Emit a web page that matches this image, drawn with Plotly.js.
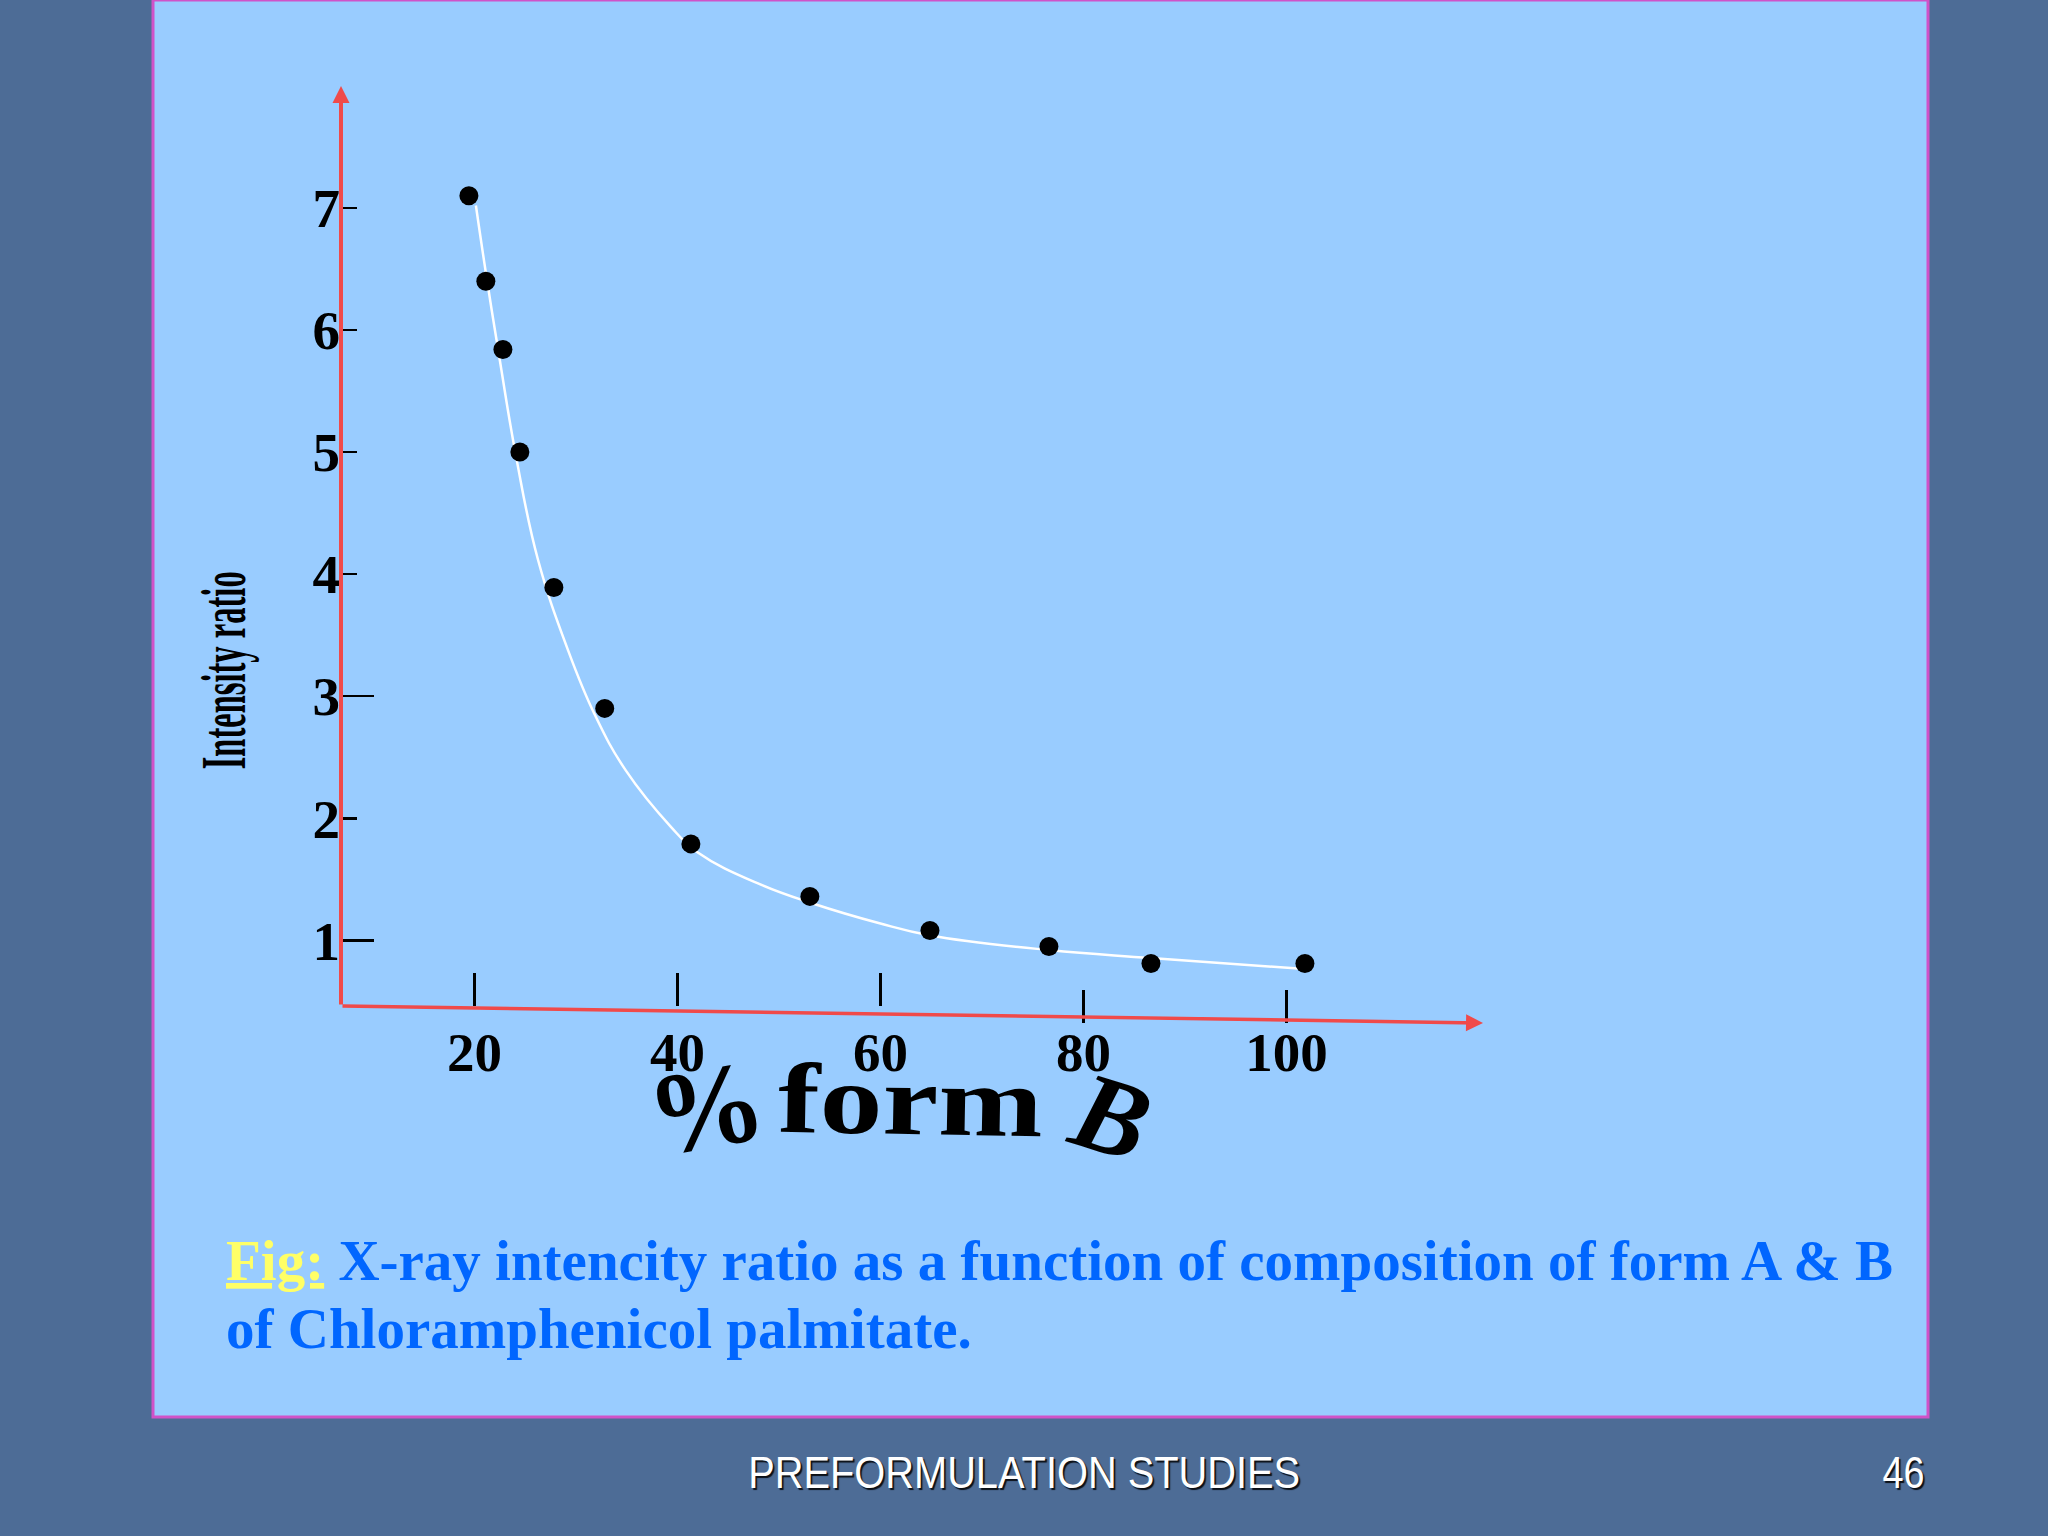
<!DOCTYPE html>
<html>
<head>
<meta charset="utf-8">
<script src="https://cdn.plot.ly/plotly-3.0.1.min.js"></script>
<style>
html,body{margin:0;padding:0;background:#4D6C96;}
#chart{width:2048px;height:1536px;}
</style>
</head>
<body>
<div id="chart"></div>
<script>
// ---- data ----
const formB = [19.45, 21.12, 22.8, 24.47, 27.82, 32.83, 41.32, 53.04, 64.87, 76.59, 86.64, 101.81];
const intensityRatio = [7.10, 6.40, 5.84, 5.00, 3.89, 2.90, 1.79, 1.36, 1.08, 0.95, 0.81, 0.81];
const curveX = [20.14, 21.12, 22.5, 24.17, 26.25, 29.2, 31.84, 34.92, 39.35, 42.0, 48.1, 53.4, 59.9, 64.9, 76.6, 86.6, 102.5];
const curveY = [7.02, 6.47, 5.75, 4.93, 4.12, 3.38, 2.85, 2.39, 1.93, 1.72, 1.46, 1.30, 1.14, 1.04, 0.92, 0.855, 0.76];
const xTickVals = [20, 40, 60, 80, 100];
const xTickText = ['20', '40', '60', '80', '100'];
const yTickVals = [1, 2, 3, 4, 5, 6, 7];
const yTickText = ['1', '2', '3', '4', '5', '6', '7'];
const xLongTicksLow = [80, 100];
const xTicksHigh = [20, 40, 60];
const yLongTicks = [1, 3];
const yTitle = 'Intensity ratio';
const xTitleParts = ['%', 'form', 'B'];
const captionLabel = 'Fig:';
const captionLine1 = 'X-ray intencity ratio as a function of composition of form A & B';
const captionLine2 = 'of Chloramphenicol palmitate.';
const footerText = 'PREFORMULATION STUDIES';
const slideNumber = '46';

// ---- layout helpers (page pixels -> paper fractions) ----
const W = 2048, H = 1536;
const px = v => v / W;
const py = v => 1 - v / H;
const xRange = [6.85, 119.55];
const yRange = [0.3226, 8.0074];
const RED = '#F04A4A';
const SERIF = 'Liberation Serif, Times New Roman, serif';
const SANS = 'Liberation Sans, Arial, sans-serif';

const traces = [
  {x: curveX, y: curveY, type: 'scatter', mode: 'lines',
   line: {color: '#FFFFFF', width: 2.5, shape: 'spline', smoothing: 1.2},
   hoverinfo: 'skip', showlegend: false},
  {x: formB, y: intensityRatio, type: 'scatter', mode: 'markers',
   marker: {color: '#000000', size: 19}, hoverinfo: 'skip', showlegend: false},
  // carriers so the tick-only overlay axes are drawn (nothing visible)
  {x: formB, y: intensityRatio, xaxis: 'x2', yaxis: 'y', type: 'scatter', mode: 'none', hoverinfo: 'skip', showlegend: false},
  {x: formB, y: intensityRatio, xaxis: 'x3', yaxis: 'y', type: 'scatter', mode: 'none', hoverinfo: 'skip', showlegend: false},
  {x: formB, y: intensityRatio, xaxis: 'x', yaxis: 'y2', type: 'scatter', mode: 'none', hoverinfo: 'skip', showlegend: false}
];

const tickFont = {family: SERIF, size: 55, color: '#000000', weight: 'bold'};
const noLine = {showline: false, showgrid: false, zeroline: false};

const layout = {
  width: W, height: H,
  margin: {l: 0, r: 0, t: 0, b: 0},
  paper_bgcolor: '#4D6C96',
  plot_bgcolor: 'rgba(0,0,0,0)',
  showlegend: false,
  xaxis: Object.assign({domain: [px(341), px(1485)], range: xRange, anchor: 'y',
          tickmode: 'array', tickvals: xTickVals, ticktext: xTickText,
          ticks: '', tickfont: tickFont, ticklabelstandoff: -8}, noLine),
  xaxis2: Object.assign({overlaying: 'x', anchor: 'y', range: xRange, domain: [px(341), px(1485)],
           tickmode: 'array', tickvals: xLongTicksLow, ticks: 'inside', ticklen: 33,
           tickwidth: 2.5, tickcolor: '#000000', showticklabels: false}, noLine),
  xaxis3: Object.assign({overlaying: 'x', anchor: 'free', position: py(1006), range: xRange,
           domain: [px(341), px(1485)],
           tickmode: 'array', tickvals: xTicksHigh, ticks: 'inside', ticklen: 33,
           tickwidth: 2.5, tickcolor: '#000000', showticklabels: false}, noLine),
  yaxis: Object.assign({domain: [py(1023), py(85)], range: yRange, anchor: 'x',
          tickmode: 'array', tickvals: yTickVals, ticktext: yTickText,
          ticks: 'inside', ticklen: 16, tickwidth: 2.5, tickcolor: '#000000',
          tickfont: tickFont, ticklabelstandoff: 0}, noLine),
  yaxis2: Object.assign({overlaying: 'y', anchor: 'x', range: yRange, domain: [py(1023), py(85)],
           tickmode: 'array', tickvals: yLongTicks, ticks: 'inside', ticklen: 33,
           tickwidth: 2.5, tickcolor: '#000000', showticklabels: false}, noLine),
  shapes: [
    {type: 'rect', xref: 'paper', yref: 'paper', layer: 'below',
     x0: px(153), x1: px(1928), y0: py(1417), y1: py(0),
     fillcolor: '#99CCFF', line: {color: '#D052C8', width: 3}}
  ],
  annotations: [
    // 0: y-axis arrow
    {xref: 'paper', yref: 'paper', x: px(341), y: py(86), ax: 0, ay: 920,
     axref: 'pixel', ayref: 'pixel', text: '', showarrow: true,
     arrowhead: 2, arrowsize: 0.85, arrowwidth: 4, arrowcolor: RED, standoff: 0},
    // 1: x-axis arrow (slightly slanted as in the slide)
    {xref: 'paper', yref: 'paper', x: px(1483), y: py(1023), ax: -1142, ay: -17,
     axref: 'pixel', ayref: 'pixel', text: '', showarrow: true,
     arrowhead: 2, arrowsize: 0.97, arrowwidth: 3.5, arrowcolor: RED, standoff: 0},
    // 2: y title
    {xref: 'paper', yref: 'paper', x: px(224), y: py(671), text: yTitle, showarrow: false,
     textangle: -90, xanchor: 'center', yanchor: 'middle',
     font: {family: SERIF, size: 64, color: '#000000', weight: 'bold'}},
    // 3-5: word-art x title
    {xref: 'paper', yref: 'paper', x: px(706), y: py(1108), text: xTitleParts[0], showarrow: false,
     textangle: -10, xanchor: 'center', yanchor: 'middle',
     font: {family: SERIF, size: 116, color: '#000000', weight: 'bold'}},
    {xref: 'paper', yref: 'paper', x: px(910), y: py(1100), text: xTitleParts[1], showarrow: false,
     textangle: 1, xanchor: 'center', yanchor: 'middle',
     font: {family: SERIF, size: 100, color: '#000000', weight: 'bold'}},
    {xref: 'paper', yref: 'paper', x: px(1110), y: py(1116), text: '<i>' + xTitleParts[2] + '</i>', showarrow: false,
     textangle: 17, xanchor: 'center', yanchor: 'middle',
     font: {family: SERIF, size: 110, color: '#000000', weight: 'bold'}},
    // 6-7: caption
    {xref: 'paper', yref: 'paper', x: px(224), y: py(1260), xanchor: 'left', yanchor: 'middle',
     showarrow: false, align: 'left',
     text: '<span style="color:#FFFF66"><u>' + captionLabel + '</u></span> ' + captionLine1,
     font: {family: SERIF, size: 57, color: '#0066FF', weight: 'bold'}},
    {xref: 'paper', yref: 'paper', x: px(224), y: py(1328), xanchor: 'left', yanchor: 'middle',
     showarrow: false, align: 'left', text: captionLine2,
     font: {family: SERIF, size: 57, color: '#0066FF', weight: 'bold'}},
    // 8-9: footer
    {xref: 'paper', yref: 'paper', x: px(1024), y: py(1472), xanchor: 'center', yanchor: 'middle',
     showarrow: false, text: footerText,
     font: {family: SANS, size: 44, color: '#FFFFFF', shadow: '2px 2px 1px rgba(0,0,0,0.85)'}},
    {xref: 'paper', yref: 'paper', x: px(1903), y: py(1472), xanchor: 'center', yanchor: 'middle',
     showarrow: false, text: slideNumber,
     font: {family: SANS, size: 44, color: '#FFFFFF', shadow: '2px 2px 1px rgba(0,0,0,0.85)'}}
  ]
};

// condensed / stretched lettering as in the slide (real text, glyphs scaled)
const textLengths = {2: 198, 4: 265, 8: 552, 9: 42};

Plotly.newPlot('chart', traces, layout, {staticPlot: true, displayModeBar: false}).then(function () {
  document.querySelectorAll('g.annotation').forEach(function (g) {
    const i = +g.getAttribute('data-index');
    if (textLengths[i]) {
      const t = g.querySelector('text.annotation-text');
      if (t) {
        t.setAttribute('textLength', textLengths[i]);
        t.setAttribute('lengthAdjust', 'spacingAndGlyphs');
      }
    }
  });
});
</script>
</body>
</html>
